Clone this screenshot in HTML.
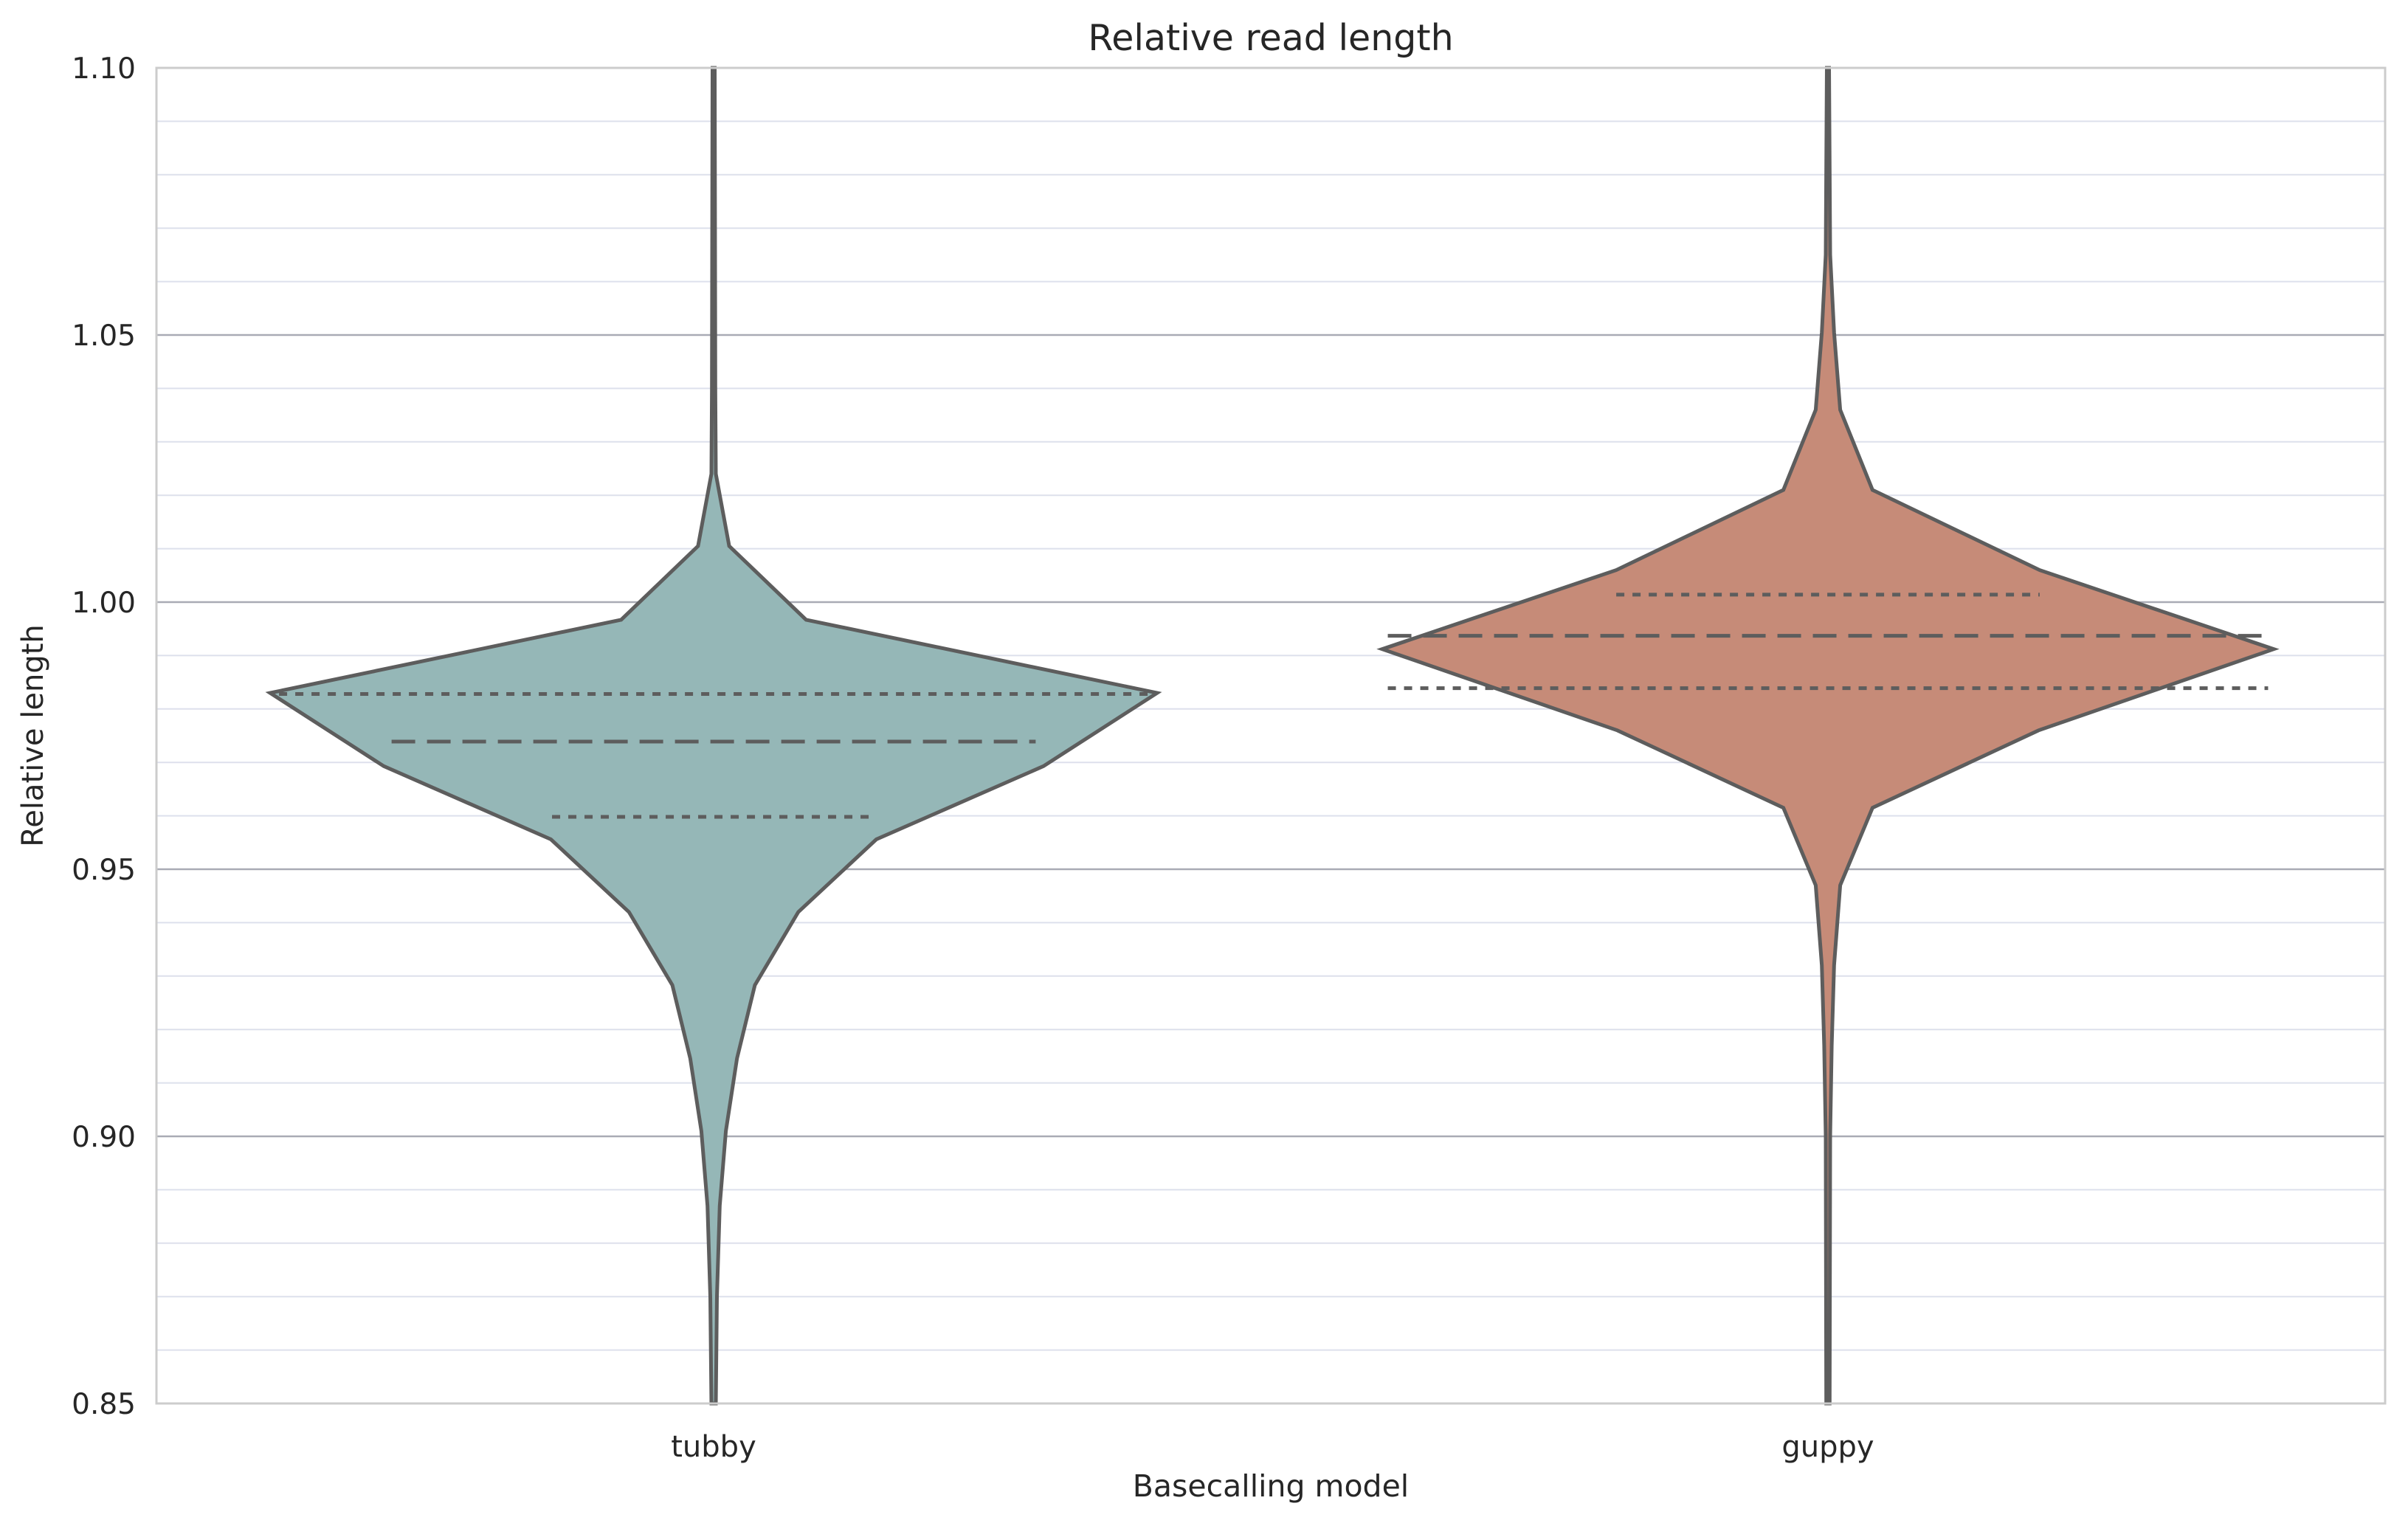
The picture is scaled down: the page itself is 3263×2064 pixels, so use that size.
<!DOCTYPE html>
<html><head><meta charset="utf-8"><style>
html,body{margin:0;padding:0;background:#fff;}
svg{display:block;font-family:"DejaVu Sans","Liberation Sans",sans-serif;}
</style></head><body>
<svg id="chart" width="3263" height="2064" viewBox="0 0 3263 2064"></svg>
<script>
const categories = ["tubby","guppy"];
const tubbyValues = [1.10,1.04,1.024,1.0105,0.9967,0.983,0.9693,0.9556,0.942,0.9283,0.9146,0.901,0.887,0.87,0.85];
const tubbyWidths = [0.001,0.0015,0.002,0.014,0.083,0.398,0.296,0.146,0.076,0.037,0.021,0.011,0.0055,0.003,0.002];
const guppyValues = [1.10,1.065,1.0505,1.036,1.021,1.006,0.9912,0.976,0.9615,0.947,0.932,0.917,0.90,0.85];
const guppyWidths = [0.001,0.002,0.0055,0.011,0.04,0.19,0.4,0.189,0.04,0.011,0.0055,0.0034,0.002,0.0015];
const tubbyQuartiles = [0.9598,0.9739,0.9828];
const tubbyQuartileWidths = [0.145,0.289,0.39];
const guppyQuartiles = [0.9839,0.9937,1.0014];
const guppyQuartileWidths = [0.395,0.395,0.19];
const yTicks = [0.85,0.90,0.95,1.00,1.05,1.10];
const yTickLabels = ["0.85","0.90","0.95","1.00","1.05","1.10"];
const fills = ["#95b7b7","#c68b78"];

const L=212,R=3232,T=92,B=1902,yMin=0.85,yMax=1.10;
const NS="http://www.w3.org/2000/svg";
const svg=document.getElementById('chart');
const y=v=>B-(v-yMin)/(yMax-yMin)*(B-T);
const band=(R-L)/categories.length;
const xc=i=>L+band*(i+0.5);
function el(tag,attrs,parent){const e=document.createElementNS(NS,tag);for(const k in attrs)e.setAttribute(k,attrs[k]);(parent||svg).appendChild(e);return e;}

for(let k=0;k<=25;k++){const v=yMin+k*0.01;if(k%5===0)continue;
 const g=el('line',{x1:L,x2:R,y1:y(v),y2:y(v),stroke:'#dde0ec','stroke-width':2});
 
 }
yTicks.forEach((v,i)=>{
 const g=el('line',{x1:L,x2:R,y1:y(v),y2:y(v),stroke:'#a9abb5','stroke-width':2.5});
 
 
 const t=el('text',{x:L-28,y:y(v)+14,'text-anchor':'end','font-size':39,fill:'#262626'});
 t.textContent=yTickLabels[i];
 
 
});

const series=[[tubbyValues,tubbyWidths,tubbyQuartiles,tubbyQuartileWidths],[guppyValues,guppyWidths,guppyQuartiles,guppyQuartileWidths]];
series.forEach(([vals,wids,qs,qw],i)=>{
 const cx=xc(i);
 let pts=vals.map((v,j)=>[cx+wids[j]*band,y(v)]);
 let left=vals.map((v,j)=>[cx-wids[j]*band,y(v)]).reverse();
 const d='M'+pts.concat(left).map(p=>p[0].toFixed(1)+','+p[1].toFixed(1)).join(' L')+' Z';
 const p=el('path',{d:d,fill:fills[i],stroke:'#5d5d5d','stroke-width':5,'stroke-linejoin':'miter'});
 
 
 qs.forEach((q,k)=>{
  const hw=qw[k]*band;
  const ln=el('line',{x1:cx-hw,x2:cx+hw,y1:y(q),y2:y(q),stroke:'#5d5d5d','stroke-width':5,'stroke-dasharray':k===1?'32,16':'11,11'});
  
  
 });
 const t=el('text',{x:cx,y:B+72,'text-anchor':'middle','font-size':40,fill:'#262626'});
 t.textContent=categories[i];
 
 
});

const fr=el('rect',{x:L,y:T,width:R-L,height:B-T,fill:'none',stroke:'#cccccc','stroke-width':3});


const ti=el('text',{x:(L+R)/2,y:68,'text-anchor':'middle','font-size':49,fill:'#262626'});
ti.textContent='Relative read length';


const xl=el('text',{x:(L+R)/2,y:2028,'text-anchor':'middle','font-size':41,fill:'#262626'});
xl.textContent='Basecalling model';


const yl=el('text',{x:0,y:0,'text-anchor':'middle','font-size':40,fill:'#262626',transform:'translate(58,'+((T+B)/2)+') rotate(-90)'});
yl.textContent='Relative length';


</script>
</body></html>
